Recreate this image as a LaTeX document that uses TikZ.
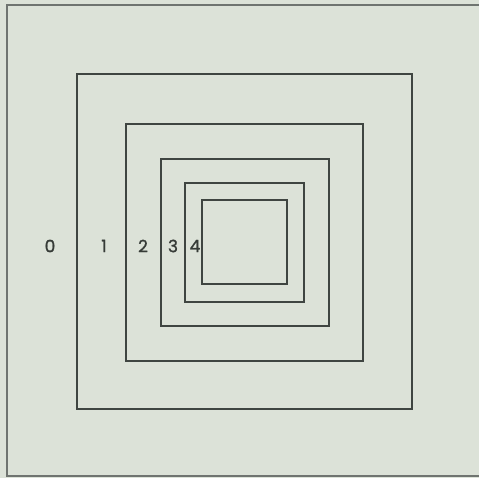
\documentclass[tikz,border=0pt]{standalone}
\usepackage{fontspec}
\setmainfont{Poppins}
\newfontfamily\numfont[FakeBold=1.2]{Poppins}
\definecolor{paper}{HTML}{DCE2D8}
\definecolor{ink}{HTML}{3F4541}
\begin{document}
\begin{tikzpicture}[x=1pt,y=-1pt,
  sq/.style={draw=ink,line width=1.25pt,inner sep=0pt,fill=none},
  num/.style={text=ink!85!black,font=\numfont\fontsize{17}{17}\selectfont,inner sep=0pt,anchor=center}]
\fill[paper] (0,0) rectangle (479,478);
\useasboundingbox (0,0) rectangle (479,478);
% frame
\coordinate (ftr) at (479,5);
\coordinate (ftl) at (7,5);
\coordinate (fbl) at (7,476);
\coordinate (fbr) at (479,476);
\draw[ink!75,line width=1.1pt] (ftr) -- (ftl) -- (fbl) -- (fbr);
% nested squares
\node[sq,minimum width=335pt,minimum height=335pt] (sq1) at (244.5,241.5) {};
\node[sq,minimum width=237pt,minimum height=237pt] (sq2) at (244.5,242.5) {};
\node[sq,minimum width=168pt,minimum height=167pt] (sq3) at (245,242.5) {};
\node[sq,minimum width=119pt,minimum height=119pt] (sq4) at (244.5,242.5) {};
\node[sq,minimum width=85pt,minimum height=84pt] (sq5) at (244.5,242) {};
% labels
\node[num] (l0) at (50,246) {0};
\node[num] (l1) at (104,246) {1};
\node[num] (l2) at (143,246) {2};
\node[num] (l3) at (173,246) {3};
\node[num] (l4) at (195,246) {4};
\end{tikzpicture}
\end{document}
